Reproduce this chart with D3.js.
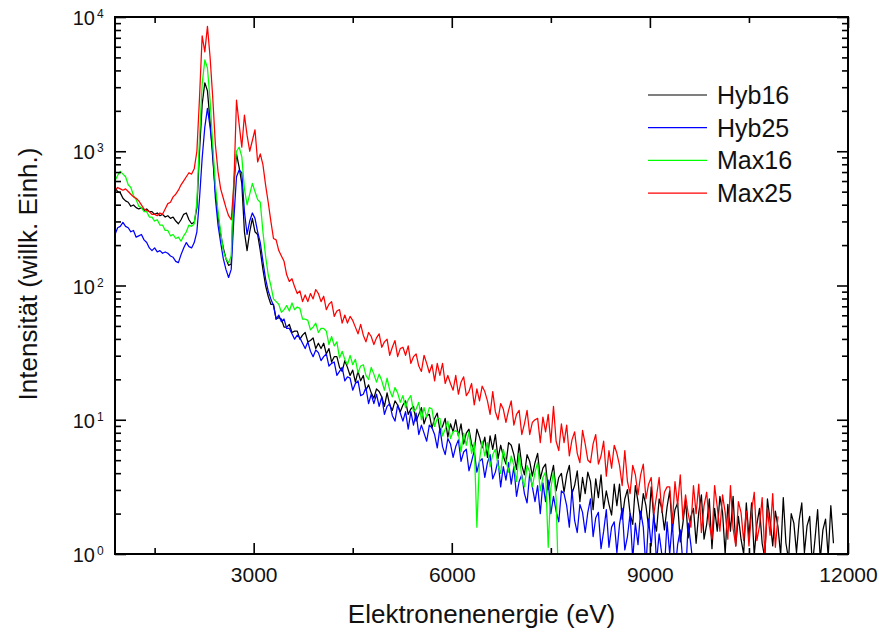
<!DOCTYPE html>
<html>
<head>
<meta charset="utf-8">
<script src="https://cdn.jsdelivr.net/npm/d3@7"></script>
<style>
  body { margin: 0; background: #fff; }
  svg { display: block; font-family: Arial, "Liberation Sans", sans-serif; }
</style>
</head>
<body>
<svg id="chart" width="879" height="635"></svg>
<script>
// Spectra: one value per 40 eV channel starting at 900 eV,
// stored as 100 * log10(intensity). Values below 0 fall under the 10^0 axis.
const E0 = 900;
const DE = 40;

const hyb16 = [
  273,270,269,265,263,262,259,260,258,257,
  258,256,257,255,255,253,254,252,253,251,
  252,250,251,248,246,249,253,254,249,246,
  247,258,300,335,351,345,322,295,270,252,
  238,228,220,215,216,275,298,288,276,240,
  226,240,250,240,238,226,212,200,192,186,
  186,175,176,175,169,169,171,165,166,166,
  160,163,165,158,159,161,153,157,153,157,
  149,153,143,147,147,139,136,144,139,133,
  137,128,136,129,133,122,126,120,116,123,
  121,117,110,120,111,107,114,111,106,111,
  114,104,108,110,99,104,109,97,103,104,
  94,101,105,92,95,101,87,97,91,100,
  88,97,82,90,93,82,77,93,87,79,
  87,72,88,78,89,71,81,73,67,83,
  81,74,63,82,66,59,74,69,58,68,
  75,56,64,67,48,57,66,47,57,60,
  46,59,66,45,51,62,39,57,45,61,
  54,33,56,42,59,34,47,37,29,52,
  36,52,26,41,48,30,22,51,39,26,
  45,36,20,50,26,17,41,34,18,35,
  47,18,33,38,9,23,40,12,28,34,
  8,31,44,11,22,41,4,34,17,43,
  31,0,37,17,43,6,28,11,0,38,
  13,38,-1,22,34,8,-3,41,25,6,
  32,20,-1,42,8,-4,30,23,1,25,
  38,1,21,28,-9,11,33,-4,18,26,-2,36,8
];

const hyb25 = [
  238,243,244,247,244,243,240,241,236,237,
  238,234,232,228,226,228,225,226,224,225,
  224,222,221,218,217,223,228,232,229,228,
  232,240,265,295,318,332,318,300,265,245,
  232,220,212,206,212,250,281,286,284,255,
  238,248,254,250,240,232,218,205,196,190,
  185,175,178,173,175,168,168,164,160,163,
  161,157,153,158,151,147,152,150,144,147,
  149,140,142,143,133,136,139,129,132,131,
  122,127,129,118,119,124,112,119,112,119,
  110,117,104,110,112,103,99,111,105,99,
  106,93,106,96,105,89,96,90,84,96,
  94,89,79,94,80,74,86,82,72,80,
  85,69,76,78,62,69,77,61,69,71,
  57,68,74,56,61,70,50,65,55,68,
  52,65,43,54,59,45,38,60,50,39,
  51,30,53,39,55,30,43,32,24,47,
  45,36,20,48,25,16,37,31,16,31,
  41,13,27,31,4,17,33,5,20,24,
  1,22,34,3,13,30,-4,23,7,32,
  20,-10,26,6,31,-6,15,0,-11,24,
  0,24,-14,7,18,-7,-18,23,7,-11
];

const max16 = [
  278,282,285,283,281,275,273,267,264,259,
  258,255,255,251,251,248,249,245,245,241,
  241,237,238,235,236,233,237,240,245,244,
  246,262,310,350,368,362,338,305,275,255,
  240,226,220,217,222,280,300,303,296,272,
  260,268,276,270,264,262,240,222,208,200,
  190,188,186,180,182,185,181,187,182,184,
  183,175,175,174,167,169,172,165,168,168,
  166,156,162,155,158,146,151,145,141,148,
  141,145,135,140,141,133,130,139,134,128,
  134,129,122,131,122,117,124,120,113,118,
  109,115,118,106,108,113,100,109,102,109,
  108,95,101,101,88,93,99,86,91,92,
  90,76,90,81,91,75,83,20,70,84,
  73,83,65,74,78,66,60,78,70,61,
  73,66,54,75,57,50,66,61,50,61,
  68,47,57,61,5,49,61,41,-30
];

const max25 = [
  271,273,272,271,272,270,268,266,265,263,
  260,257,256,255,253,253,252,254,253,257,
  261,262,266,268,271,275,278,281,284,283,
  287,300,340,386,374,393,370,340,305,285,
  272,265,258,252,249,275,338,320,303,327,
  312,300,308,316,292,298,290,275,262,248,
  235,234,226,222,218,208,203,205,199,194,
  196,188,193,188,194,190,197,194,188,192,
  182,186,188,177,181,182,172,178,172,177,
  174,169,164,171,163,158,165,162,156,161,
  164,154,158,160,148,154,159,147,153,154,
  148,155,142,147,149,140,136,148,142,135,
  141,129,142,133,142,127,133,127,122,133,
  119,128,132,118,121,127,111,123,114,125,
  121,114,104,121,106,100,112,108,98,107,
  114,96,104,107,89,97,107,89,98,100,
  101,83,102,91,104,83,110,84,77,97,
  83,96,73,85,91,75,68,92,82,70,
  68,82,89,67,73,84,58,77,64,81,
  75,66,51,77,54,45,66,59,44,59,
  67,41,52,57,30,43,57,31,46,50,
  50,23,54,36,59,26,44,30,20,51,
  30,52,16,36,46,22,11,51,35,17,
  44,31,11,51,19,6,39,31,10,32,
  6,32,46,10,21,42,0,34,14,45,5,28
];

const seriesNames = ["Hyb16", "Hyb25", "Max16", "Max25"];
const seriesColors = ["#000000", "#0000ff", "#00ff00", "#ff0000"];
const seriesValues = [hyb16, hyb25, max16, max25];

const xTicks = [3000, 6000, 9000, 12000];
const xMinorTicks = [1500, 4500, 7500, 10500];
const yExponents = [0, 1, 2, 3, 4];

const plot = { left: 115, right: 848, top: 17, bottom: 554 };
const svg = d3.select("#chart");

const x = d3.scaleLinear().domain([900, 12000]).range([plot.left, plot.right]);
const y = d3.scaleLog().domain([1, 1e4]).range([plot.bottom, plot.top]);

const yMajor = yExponents.map(e => Math.pow(10, e));
const yMinor = y.ticks().filter(v => !yMajor.some(m => Math.abs(m - v) < 1e-9));

svg.append("defs").append("clipPath").attr("id", "plot-clip")
  .append("rect")
  .attr("x", plot.left).attr("y", plot.top)
  .attr("width", plot.right - plot.left).attr("height", plot.bottom - plot.top);

// spectra
const line = d3.line()
  .x((d, i) => x(E0 + DE * i))
  .y(d => y(Math.pow(10, d / 100)));

const lines = svg.append("g").attr("clip-path", "url(#plot-clip)");
seriesValues.forEach((vals, k) => {
  lines.append("path")
    .attr("d", line(vals))
    .attr("fill", "none")
    .attr("stroke", seriesColors[k])
    .attr("stroke-width", 1.25)
    .attr("stroke-linejoin", "round");
});

// axes, ticks pointing inward on all four sides
function styleAxis(g) {
  g.select(".domain").remove();
  g.selectAll(".tick line").attr("stroke", "#000").attr("stroke-width", 1.6);
}

svg.append("g").attr("transform", `translate(0,${plot.bottom})`)
  .call(d3.axisBottom(x).tickValues(xTicks).tickSize(-11).tickPadding(13).tickFormat(d3.format("d")))
  .call(styleAxis)
  .call(g => g.selectAll("text").attr("font-size", 21).attr("fill", "#111").attr("font-family", "Arial, 'Liberation Sans', sans-serif"));
svg.append("g").attr("transform", `translate(0,${plot.bottom})`)
  .call(d3.axisBottom(x).tickValues(xMinorTicks).tickSize(-6).tickFormat(""))
  .call(styleAxis);
svg.append("g").attr("transform", `translate(0,${plot.top})`)
  .call(d3.axisTop(x).tickValues(xTicks).tickSize(-11).tickFormat(""))
  .call(styleAxis);
svg.append("g").attr("transform", `translate(0,${plot.top})`)
  .call(d3.axisTop(x).tickValues(xMinorTicks).tickSize(-6).tickFormat(""))
  .call(styleAxis);

svg.append("g").attr("transform", `translate(${plot.left},0)`)
  .call(d3.axisLeft(y).tickValues(yMajor).tickSize(-11).tickFormat(""))
  .call(styleAxis);
svg.append("g").attr("transform", `translate(${plot.left},0)`)
  .call(d3.axisLeft(y).tickValues(yMinor).tickSize(-6).tickFormat(""))
  .call(styleAxis);
svg.append("g").attr("transform", `translate(${plot.right},0)`)
  .call(d3.axisRight(y).tickValues(yMajor).tickSize(-11).tickFormat(""))
  .call(styleAxis);
svg.append("g").attr("transform", `translate(${plot.right},0)`)
  .call(d3.axisRight(y).tickValues(yMinor).tickSize(-6).tickFormat(""))
  .call(styleAxis);

svg.append("rect")
  .attr("x", plot.left).attr("y", plot.top)
  .attr("width", plot.right - plot.left).attr("height", plot.bottom - plot.top)
  .attr("fill", "none").attr("stroke", "#000").attr("stroke-width", 2);

// y tick labels as 10 with superscript exponent
const yLabels = svg.append("g").attr("fill", "#111");
yExponents.forEach(e => {
  const py = y(Math.pow(10, e));
  yLabels.append("text")
    .attr("x", 95).attr("y", py + 8)
    .attr("text-anchor", "end").attr("font-size", 20)
    .text("10");
  yLabels.append("text")
    .attr("x", 97).attr("y", py + 1)
    .attr("font-size", 12)
    .text(e);
});

// axis titles
svg.append("text")
  .attr("x", (plot.left + plot.right) / 2).attr("y", 623)
  .attr("text-anchor", "middle").attr("font-size", 26).attr("fill", "#111")
  .text("Elektronenenergie (eV)");
svg.append("text")
  .attr("transform", "translate(37,274) rotate(-90)")
  .attr("text-anchor", "middle").attr("font-size", 26).attr("fill", "#111")
  .text("Intensität (willk. Einh.)");

// legend
const legend = svg.append("g");
seriesNames.forEach((name, k) => {
  const ly = 95 + k * 32.7;
  legend.append("line")
    .attr("x1", 648).attr("x2", 707).attr("y1", ly).attr("y2", ly)
    .attr("stroke", seriesColors[k]).attr("stroke-width", 1.2);
  legend.append("text")
    .attr("x", 717).attr("y", ly).attr("dy", "0.36em")
    .attr("font-size", 25).attr("fill", "#111")
    .text(name);
});
</script>
</body>
</html>
